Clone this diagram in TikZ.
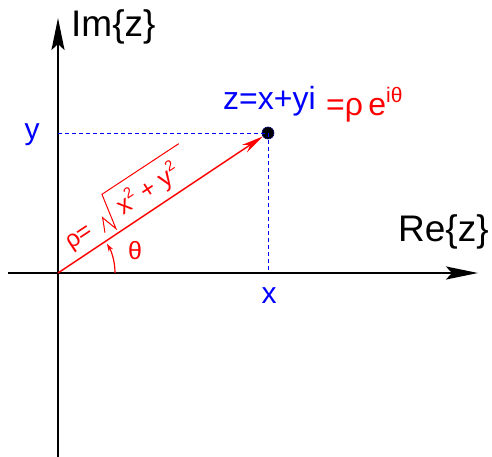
\documentclass[tikz,border=0pt]{standalone}
\usepackage{fontspec}
\setmainfont{Liberation Sans}
\usetikzlibrary{arrows.meta}
\tikzset{
  axis/.style={line width=2.4pt,-{Stealth[length=32pt,width=13pt,inset=6pt]}},
  guide/.style={blue,line width=0.8pt,dash pattern=on 4pt off 3pt},
  vec/.style={red,line width=1.4pt,-{Stealth[length=22pt,width=9pt]}},
  lbl/.style={inner sep=0pt},
}
\newcommand{\fs}[1]{\fontsize{#1}{#1}\selectfont}
\begin{document}
\begin{tikzpicture}[x=1pt,y=-1pt]
\useasboundingbox (0,0) rectangle (492,457);
\coordinate (O) at (58,273);
\coordinate (bot) at (58,457);
\coordinate (top) at (58,18);
\coordinate (left) at (8,273);
\coordinate (right) at (478,273);
\node[circle,fill=black,draw=blue!40!black,line width=0.6pt,minimum size=12pt,inner sep=0pt] (z) at (268,133) {};
\coordinate (zy) at (58,133);
\coordinate (zx) at (268,273);
% axes
\draw[axis] (bot) -- (top);
\draw[axis] (left) -- (right);
% guides
\draw[guide] (zy) -- (z.center);
\draw[guide] (z.center) -- (zx);
% vector
\draw[vec] (O) -- (z);
% angle arc
\draw[red,line width=1.2pt,-{Stealth[length=8pt,width=5pt]}] ([shift={(0:57)}]58,273) arc[start angle=0,end angle=-31,radius=57];
\node[lbl,red] (th) at (135,251) {\fs{25}θ};
% labels
\node[lbl,anchor=base west] (im) at (71,37) {\fs{37}Im\{z\}};
\node[lbl,anchor=base west] (re) at (398,241) {\fs{37}Re\{z\}};
\node[lbl,blue,anchor=base west] (zl) at (223,110) {\fs{32}z=x+yi};
\node[lbl,red,anchor=base west] (rl) at (326,116) {\fs{32}=ρ\,e\raisebox{0.42em}{\fs{21}iθ}};
\node[lbl,blue] (yl) at (32,135) {\fs{30}y};
\node[lbl,blue] (xl) at (269,296) {\fs{30}x};
% rotated rho label
\begin{scope}[shift={(58,273)},rotate=33.4,x=1pt,y=1pt]
  \node[lbl,red,anchor=base west,transform shape] (rho) at (24,12) {\fs{24}ρ=};
  \draw[red,line width=1pt,line join=miter] (61.4,7.8) -- (67.7,21.6) -- (72.8,5.1) -- (80,41.5) -- (172,41.5);
  \node[lbl,red,anchor=base west,transform shape] (rad) at (86,12) {\fs{25}x\raisebox{0.45em}{\fs{15}2} + y\raisebox{0.45em}{\fs{15}2}};
\end{scope}
\end{tikzpicture}
\end{document}
